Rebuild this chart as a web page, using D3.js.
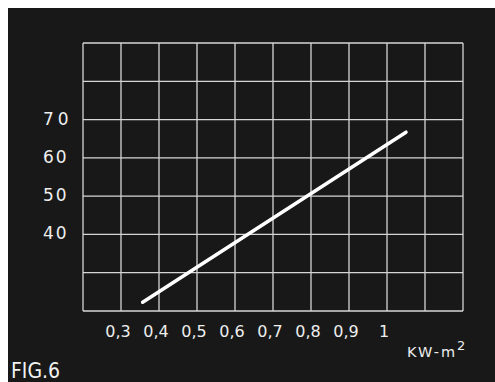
<!DOCTYPE html>
<html>
<head>
<meta charset="utf-8">
<script src="https://cdn.jsdelivr.net/npm/d3@7"></script>
<style>
  html, body { margin: 0; padding: 0; background: #fff; }
  svg { display: block; }
</style>
</head>
<body>
<svg id="chart" width="495" height="382"></svg>
<script>
// x grid: 0.2 .. 1.2 (KW-m2), y grid: 20 .. 90
const xGrid = [0.2, 0.3, 0.4, 0.5, 0.6, 0.7, 0.8, 0.9, 1.0, 1.1, 1.2]
const yGrid = [20, 30, 40, 50, 60, 70, 80, 90]
const xTicks = [0.3, 0.4, 0.5, 0.6, 0.7, 0.8, 0.9, 1.0]
const xTickLabels = ['0,3', '0,4', '0,5', '0,6', '0,7', '0,8', '0,9', '1']
const yTicks = [40, 50, 60, 70]
const lineX = [0.357, 1.05]
const lineY = [22.3, 66.7]

const svg = d3.select('#chart')
const width = +svg.attr('width')
const height = +svg.attr('height')

// photo background
svg.append('rect')
    .attr('x', 8)
    .attr('y', 8)
    .attr('width', width - 8)
    .attr('height', height - 8)
    .attr('fill', '#181818')

const x = d3.scaleLinear().domain([0.2, 1.2]).range([83, 463])
const y = d3.scaleLinear().domain([20, 90]).range([311, 43])

const gridColor = '#d6d6d6'

// vertical grid
svg.append('g')
    .selectAll('line')
    .data(xGrid)
    .join('line')
    .attr('x1', d => x(d))
    .attr('x2', d => x(d))
    .attr('y1', y(90))
    .attr('y2', y(20))
    .attr('stroke', gridColor)
    .attr('stroke-width', 1.3)

// horizontal grid
svg.append('g')
    .selectAll('line')
    .data(yGrid)
    .join('line')
    .attr('x1', x(0.2))
    .attr('x2', x(1.2))
    .attr('y1', d => y(d))
    .attr('y2', d => y(d))
    .attr('stroke', gridColor)
    .attr('stroke-width', 1.3)

// the curve
const line = d3.line()
    .x(d => x(d[0]))
    .y(d => y(d[1]))

svg.append('path')
    .datum(lineX.map((v, i) => [v, lineY[i]]))
    .attr('fill', 'none')
    .attr('stroke', '#fff')
    .attr('stroke-width', 3.5)
    .attr('stroke-linecap', 'round')
    .attr('d', line)

// y labels
svg.append('g')
    .selectAll('text')
    .data(yTicks)
    .join('text')
    .attr('x', 43)
    .attr('y', d => y(d) + 5)
    .attr('fill', '#eee')
    .attr('font-family', 'DejaVu Sans')
    .attr('font-size', 17)
    .attr('letter-spacing', d => d === 70 ? 4 : 2)
    .text(d => d)

// x labels
svg.append('g')
    .selectAll('text')
    .data(xTicks)
    .join('text')
    .attr('x', d => x(d) - 3)
    .attr('y', 337)
    .attr('text-anchor', 'middle')
    .attr('fill', '#eee')
    .attr('font-family', 'DejaVu Sans')
    .attr('font-size', 16)
    .text((d, i) => xTickLabels[i])

// unit
const unit = svg.append('text')
    .attr('x', 407)
    .attr('y', 357)
    .attr('fill', '#eee')
    .attr('font-family', 'DejaVu Sans')
    .attr('font-size', 14.5)
    .attr('letter-spacing', 2)
unit.append('tspan').text('KW-m')
unit.append('tspan')
    .attr('dy', -7)
    .attr('font-size', 13)
    .text('2')

// figure label
svg.append('text')
    .attr('x', 11)
    .attr('y', 378)
    .attr('fill', '#f2f2f2')
    .attr('font-family', 'DejaVu Sans Condensed, DejaVu Sans')
    .attr('font-stretch', 'condensed')
    .attr('font-size', 21)
    .text('FIG.6')
</script>
</body>
</html>
